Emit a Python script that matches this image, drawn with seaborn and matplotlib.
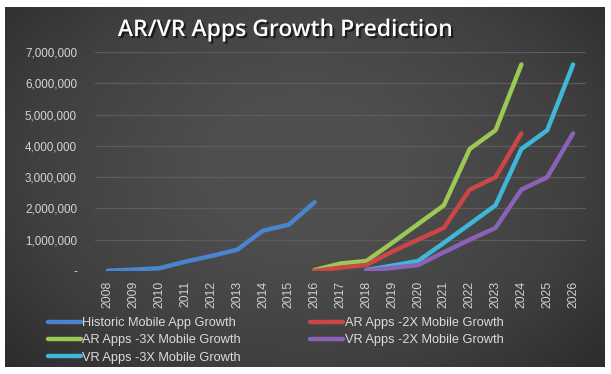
import numpy as np
import pandas as pd
import matplotlib
matplotlib.use("Agg")
import matplotlib.pyplot as plt
import matplotlib.patheffects as pe
import seaborn as sns

sns.set_style("dark")
plt.rcParams['font.family'] = ['Liberation Sans', 'DejaVu Sans']

# data
hist_years = list(range(2008, 2017))
hist_vals = [10000, 45000, 90000, 300000, 480000, 680000, 1290000, 1480000, 2200000]

ar_years = list(range(2016, 2025))
ar2x_vals = [0, 110000, 190000, 620000, 1000000, 1380000, 2600000, 3000000, 4400000]
ar3x_vals = [30000, 240000, 320000, 900000, 1500000, 2100000, 3900000, 4500000, 6600000]

vr_years = list(range(2018, 2027))
vr2x_vals = [10000, 100000, 190000, 600000, 1000000, 1380000, 2600000, 3000000, 4400000]
vr3x_vals = [30000, 170000, 320000, 900000, 1500000, 2100000, 3900000, 4500000, 6600000]

series_names = ["Historic Mobile App Growth", "AR Apps -3X Mobile Growth",
                "VR Apps -3X Mobile Growth", "AR Apps -2X Mobile Growth",
                "VR Apps -2X Mobile Growth"]
colors = ["#4a84cf", "#9cc853", "#3fb7d8", "#cd4646", "#8a63b8"]

frames = [
    pd.DataFrame({"year": hist_years, "apps": hist_vals, "series": series_names[0]}),
    pd.DataFrame({"year": ar_years, "apps": ar3x_vals, "series": series_names[1]}),
    pd.DataFrame({"year": vr_years, "apps": vr3x_vals, "series": series_names[2]}),
    pd.DataFrame({"year": ar_years, "apps": ar2x_vals, "series": series_names[3]}),
    pd.DataFrame({"year": vr_years, "apps": vr2x_vals, "series": series_names[4]}),
]
df = pd.concat(frames, ignore_index=True)

W, H = 611, 374
fig = plt.figure(figsize=(W / 100, H / 100), dpi=100)
fig.patch.set_facecolor("white")

# dark gradient panel behind the chart
bg = fig.add_axes([5 / W, 1 - 367 / H, 600 / W, 360 / H])
yy, xx = np.mgrid[0:1:200j, 0:1:300j]
r = np.sqrt(((xx - 0.5) / 0.75) ** 2 + ((yy - 0.45) / 0.9) ** 2)
grad = np.clip(1 - r, 0, 1)
bg.imshow(grad, cmap=sns.blend_palette(["#262626", "#404040", "#4f4f4f"], as_cmap=True),
          aspect="auto", extent=[0, 1, 0, 1], vmin=0, vmax=0.8)
bg.set_axis_off()

ax = fig.add_axes([95 / W, 1 - 271 / H, 491 / W, 219 / H])
ax.set_facecolor("none")
sns.lineplot(data=df, x="year", y="apps", hue="series", hue_order=series_names,
             palette=colors, linewidth=3.2, ax=ax, legend=False,
             solid_capstyle="round", solid_joinstyle="round")

ax.set_xlim(2007.5, 2026.5)
ax.set_ylim(0, 7000000)
ax.set_xticks(range(2008, 2027))
ax.set_xticklabels([str(y) for y in range(2008, 2027)], rotation=90,
                   fontsize=8.8, color="#d0d0d0")
yt = list(range(0, 7000001, 1000000))
ax.set_yticks(yt)
ax.set_yticklabels(["-"] + [f"{v:,}" for v in yt[1:]], fontsize=8.4, color="#d4d4d4")
ax.tick_params(axis="x", length=0, pad=7)
ax.tick_params(axis="y", length=0, pad=13)
ax.grid(axis="y", color="#5c5c5c", linewidth=0.9)
ax.grid(axis="x", visible=False)
ax.set_axisbelow(True)
for s in ax.spines.values():
    s.set_visible(False)
ax.set_xlabel("")
ax.set_ylabel("")

fig.text(285 / W, 1 - 30 / H, "AR/VR Apps Growth Prediction", ha="center", va="center",
         fontsize=16.5, color="white", fontweight="semibold", family=["Open Sans", "DejaVu Sans"],
         path_effects=[pe.withSimplePatchShadow(offset=(1.5, -1.5), shadow_rgbFace="black", alpha=0.6)])

handles = [plt.Line2D([], [], color=c, linewidth=3.2, solid_capstyle="round") for c in colors]
leg = fig.legend(handles, series_names, loc="upper left", bbox_to_anchor=(48 / W, 1 - 317 / H),
                 ncol=2, frameon=False, fontsize=9.2, handlelength=2.6, handletextpad=0.1,
                 columnspacing=5.4, labelspacing=0.42, borderpad=0, borderaxespad=0)
for t in leg.get_texts():
    t.set_color("#dcdcdc")

fig.savefig("out.png", dpi=100)
